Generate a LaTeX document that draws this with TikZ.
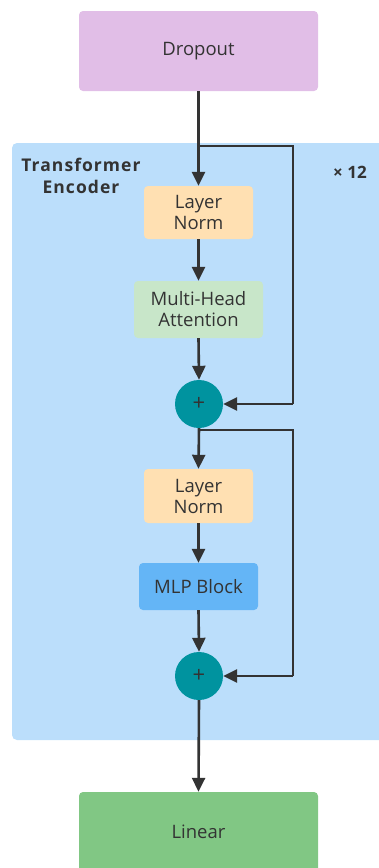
\documentclass[tikz,border=0pt]{standalone}
\usepackage{fontspec}
\setmainfont{Open Sans}
\newfontfamily\spacedfont[LetterSpace=6]{Open Sans}
\usetikzlibrary{arrows.meta}
\definecolor{txt}{HTML}{333333}
\definecolor{dropc}{HTML}{E1BEE7}
\definecolor{encc}{HTML}{BBDEFB}
\definecolor{lnc}{HTML}{FFE0B2}
\definecolor{mhac}{HTML}{C8E6C9}
\definecolor{mlpc}{HTML}{64B5F6}
\definecolor{linc}{HTML}{81C784}
\definecolor{plusc}{HTML}{00939F}
\tikzset{
  box/.style={rounded corners=4pt, inner sep=0pt, text=txt, align=center, font=\fontsize{18.5}{21}\selectfont},
  plusnode/.style={circle, fill=plusc, minimum size=48pt, inner sep=0pt, text=txt, font=\fontsize{22}{22}\selectfont},
  conn/.style={draw=txt, line width=2.6pt, -{Triangle[length=14pt,width=13pt]}},
  plain/.style={draw=txt, line width=2.6pt},
}
\begin{document}
\begin{tikzpicture}[x=1pt,y=-1pt]
\useasboundingbox (0,0) rectangle (379,868);
% encoder background
\fill[encc, rounded corners=5pt] (12,143) rectangle (395,740);
\node[text=txt, font=\spacedfont\bfseries\fontsize{17.5}{22}\selectfont, align=center] (title) at (81,176) {Transformer\\Encoder};
\node[text=txt, font=\bfseries\fontsize{17}{20}\selectfont] (rep) at (350,172) {× 12};
% boxes
\node[box, fill=dropc, minimum width=239pt, minimum height=80pt] (drop) at (198.5,51) {Dropout};
\node[box, fill=lnc, minimum width=109pt, minimum height=53pt] (ln1) at (198.5,212.5) {Layer\\Norm};
\node[box, fill=mhac, minimum width=129pt, minimum height=57pt] (mha) at (198.5,309.5) {Multi-Head\\Attention};
\node[plusnode] (p1) at (199,404) {+};
\node[box, fill=lnc, minimum width=109pt, minimum height=54pt] (ln2) at (198.5,496) {Layer\\Norm};
\node[box, fill=mlpc, minimum width=119pt, minimum height=47pt] (mlp) at (198.5,586.5) {MLP Block};
\node[plusnode] (p2) at (199,676) {+};
\node[box, fill=linc, minimum width=239pt, minimum height=80pt] (lin) at (198.5,832) {Linear};
% branch points
\coordinate (b1) at (199,146);
\coordinate (r1) at (293,146);
\coordinate (r1b) at (293,404);
\coordinate (b2) at (199,430);
\coordinate (r2) at (293,430);
\coordinate (r2b) at (293,676);
% connectors
\draw[conn] (drop.south) -- (ln1.north);
\draw[conn] (ln1.south) -- (mha.north);
\draw[conn] (mha.south) -- (p1.north);
\draw[plain] (b1) -- (r1) -- (r1b);
\draw[conn] (r1b) -- (p1.east);
\draw[conn] (p1.south) -- (ln2.north);
\draw[conn] (ln2.south) -- (mlp.north);
\draw[conn] (mlp.south) -- (p2.north);
\draw[plain] (b2) -- (r2) -- (r2b);
\draw[conn] (r2b) -- (p2.east);
\draw[conn] (p2.south) -- (lin.north);
\end{tikzpicture}
\end{document}
